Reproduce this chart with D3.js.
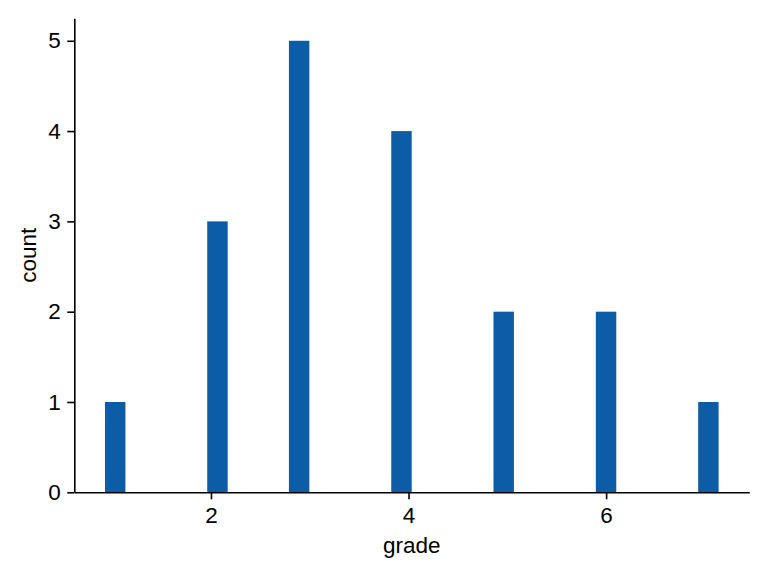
<!DOCTYPE html>
<html>
<head>
<meta charset="utf-8">
<script src="https://cdn.jsdelivr.net/npm/d3@7"></script>
<style>
  html, body { margin: 0; padding: 0; background: #fff; }
  svg { display: block; }
  text { font-family: "Liberation Sans", Arial, Helvetica, sans-serif; }
</style>
</head>
<body>
<div id="chart"></div>
<script>
// Histogram bins (left edge in grade units) and counts
const binLeft = [0.927, 1.962, 2.789, 3.825, 4.860, 5.896, 6.932];
const binWidth = 0.207;
const counts = [1, 3, 5, 4, 2, 2, 1];
const xTicks = [2, 4, 6];
const yTicks = [0, 1, 2, 3, 4, 5];
const xLabel = "grade";
const yLabel = "count";

const W = 768, H = 576;
const margin = { left: 74.3, right: W - 749.3, top: 18.2, bottom: H - 492.3 };

const svg = d3.select("#chart").append("svg")
  .attr("width", W).attr("height", H);

const xMin = binLeft[0], xMax = binLeft[binLeft.length - 1] + binWidth;
const pad = (xMax - xMin) * 0.05;
const x = d3.scaleLinear()
  .domain([xMin - pad, xMax + pad])
  .range([margin.left, W - margin.right]);
const yMax = d3.max(counts);
const y = d3.scaleLinear()
  .domain([0, yMax * 1.05])
  .range([H - margin.bottom, margin.top]);

const data = binLeft.map((b, i) => ({ x0: b, x1: b + binWidth, c: counts[i] }));

svg.append("g").selectAll("rect").data(data).join("rect")
  .attr("x", d => x(d.x0))
  .attr("width", d => x(d.x1) - x(d.x0))
  .attr("y", d => y(d.c))
  .attr("height", d => y(0) - y(d.c))
  .attr("fill", "#0C5DA5");

const fs = 22.5;
const xAxis = svg.append("g")
  .attr("transform", `translate(0,${H - margin.bottom})`)
  .call(d3.axisBottom(x).tickValues(xTicks).tickFormat(d3.format("d"))
    .tickSize(7).tickPadding(8).tickSizeOuter(0));
const yAxis = svg.append("g")
  .attr("transform", `translate(${margin.left},0)`)
  .call(d3.axisLeft(y).tickValues(yTicks).tickFormat(d3.format("d"))
    .tickSize(7).tickPadding(6.5).tickSizeOuter(0));

[xAxis, yAxis].forEach(g => {
  g.attr("font-size", null).attr("font-family", null);
  g.selectAll("path.domain").attr("stroke", "#000").attr("stroke-width", 1.6);
  g.selectAll(".tick line").attr("stroke", "#000").attr("stroke-width", 1.6);
  g.selectAll(".tick text").attr("fill", "#000")
    .style("font-size", fs + "px")
    .style("font-family", '"Liberation Sans", Arial, Helvetica, sans-serif');
});

svg.append("text")
  .attr("x", (x.range()[0] + x.range()[1]) / 2)
  .attr("y", 553)
  .attr("text-anchor", "middle")
  .style("font-size", fs + "px")
  .text(xLabel);

svg.append("text")
  .attr("transform", `translate(36,${(y.range()[0] + y.range()[1]) / 2}) rotate(-90)`)
  .attr("text-anchor", "middle")
  .style("font-size", fs + "px")
  .text(yLabel);
</script>
</body>
</html>
